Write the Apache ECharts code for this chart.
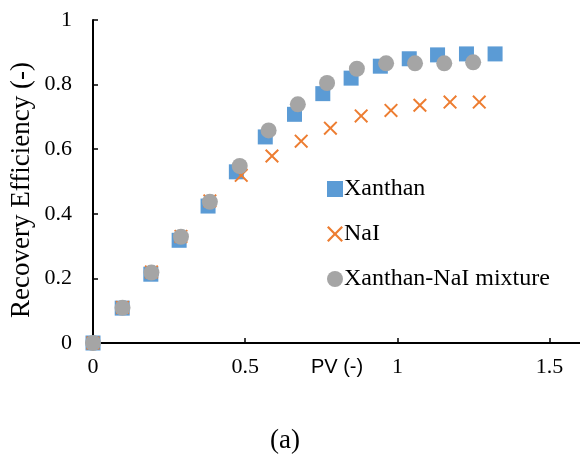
<!DOCTYPE html>
<html>
<head>
<meta charset="utf-8">
<script src="https://cdn.jsdelivr.net/npm/echarts@6/dist/echarts.min.js"></script>
<style>
html,body{margin:0;padding:0;background:#fff;}
#chart{width:580px;height:460px;}
</style>
</head>
<body>
<div id="chart"></div>
<script>
const xanthanX = [0, 0.096, 0.19, 0.283, 0.378, 0.471, 0.566, 0.662, 0.755, 0.848, 0.944, 1.039, 1.132, 1.227, 1.321];
const xanthanY = [0, 0.108, 0.213, 0.318, 0.424, 0.530, 0.638, 0.708, 0.772, 0.820, 0.857, 0.880, 0.892, 0.895, 0.895];
const naiX = [0, 0.097, 0.192, 0.289, 0.384, 0.487, 0.588, 0.684, 0.78, 0.881, 0.979, 1.074, 1.173, 1.269];
const naiY = [0, 0.11, 0.22, 0.33, 0.44, 0.519, 0.579, 0.625, 0.665, 0.703, 0.72, 0.736, 0.746, 0.746];
const mixX = [0, 0.097, 0.192, 0.289, 0.384, 0.482, 0.577, 0.673, 0.769, 0.867, 0.963, 1.058, 1.154, 1.249];
const mixY = [0, 0.109, 0.218, 0.329, 0.437, 0.548, 0.658, 0.739, 0.805, 0.849, 0.866, 0.866, 0.866, 0.869];
const seriesNames = ['Xanthan', 'NaI', 'Xanthan-NaI mixture'];
const xTicks = [0, 0.5, 1, 1.5];
const yTicks = [0, 0.2, 0.4, 0.6, 0.8, 1];

const zip = (a, b) => a.map((v, i) => [v, b[i]]);
const crossPath = 'path://M0,1L1,0L5,4L9,0L10,1L6,5L10,9L9,10L5,6L1,10L0,9L4,5Z';
const serif = '"Liberation Serif", "Times New Roman", serif';

const chart = echarts.init(document.getElementById('chart'));
chart.setOption({
  animation: false,
  backgroundColor: '#fff',
  grid: { left: 93, top: 20, right: 0, bottom: 117, containLabel: false },
  legend: {
    orient: 'vertical',
    left: 322, top: 172,
    itemGap: 21,
    itemWidth: 16, itemHeight: 16,
    textStyle: { fontFamily: serif, fontSize: 24, color: '#000', padding: [0,0,0,-4] },
    data: [
      { name: seriesNames[0], icon: 'rect' },
      { name: seriesNames[1], icon: crossPath },
      { name: seriesNames[2], icon: 'circle' }
    ]
  },
  xAxis: [{
    type: 'value', min: 0, max: 1.6, interval: 0.5,
    position: 'bottom',
    axisLine: { show: true, onZero: false, lineStyle: { color: '#000', width: 2 } },
    axisTick: { show: true, inside: true, length: 5, lineStyle: { color: '#000', width: 1.5 } },
    axisLabel: { fontFamily: serif, fontSize: 22, color: '#000', margin: 13, showMaxLabel: false,
      formatter: v => xTicks.includes(+v.toFixed(2)) ? String(+v.toFixed(2)) : '' },
    splitLine: { show: false }
  }, {
    type: 'value', min: 0, max: 1.6, position: 'top',
    axisLine: { show: true, lineStyle: { color: '#000', width: 2 } },
    axisTick: { show: false }, axisLabel: { show: false }, splitLine: { show: false }
  }],
  yAxis: {
    type: 'value', min: 0, max: 1, interval: 0.2,
    axisLine: { show: true, onZero: false, lineStyle: { color: '#000', width: 2 } },
    axisTick: { show: true, inside: true, length: 5, lineStyle: { color: '#000', width: 1.5 } },
    axisLabel: { fontFamily: serif, fontSize: 22, color: '#000', margin: 21,
      formatter: v => String(+v.toFixed(1)) },
    splitLine: { show: false }
  },
  graphic: [
    { type: 'text', x: 22, y: 190, rotation: Math.PI / 2,
      style: { text: 'Recovery Efficiency (-)', font: '27px ' + serif, fill: '#000', textAlign: 'center', textVerticalAlign: 'middle' } },
    { type: 'text', x: 337, y: 367,
      style: { text: 'PV (-)', font: '20px "Liberation Sans", Arial, sans-serif', fill: '#000', textAlign: 'center', textVerticalAlign: 'middle' } },
    { type: 'text', x: 285, y: 441,
      style: { text: '(a)', font: '27px ' + serif, fill: '#000', textAlign: 'center', textVerticalAlign: 'middle' } }
  ],
  series: [
    { name: seriesNames[0], type: 'scatter', symbol: 'rect', symbolSize: 15,
      itemStyle: { color: '#5B9BD5', opacity: 1 }, data: zip(xanthanX, xanthanY), z: 2 },
    { name: seriesNames[1], type: 'scatter', symbol: crossPath, symbolSize: 14,
      itemStyle: { color: '#ED7D31', opacity: 1 }, data: zip(naiX, naiY), z: 3 },
    { name: seriesNames[2], type: 'scatter', symbol: 'circle', symbolSize: 16,
      itemStyle: { color: '#A5A5A5', opacity: 1 }, data: zip(mixX, mixY), z: 4 }
  ]
});
</script>
</body>
</html>
